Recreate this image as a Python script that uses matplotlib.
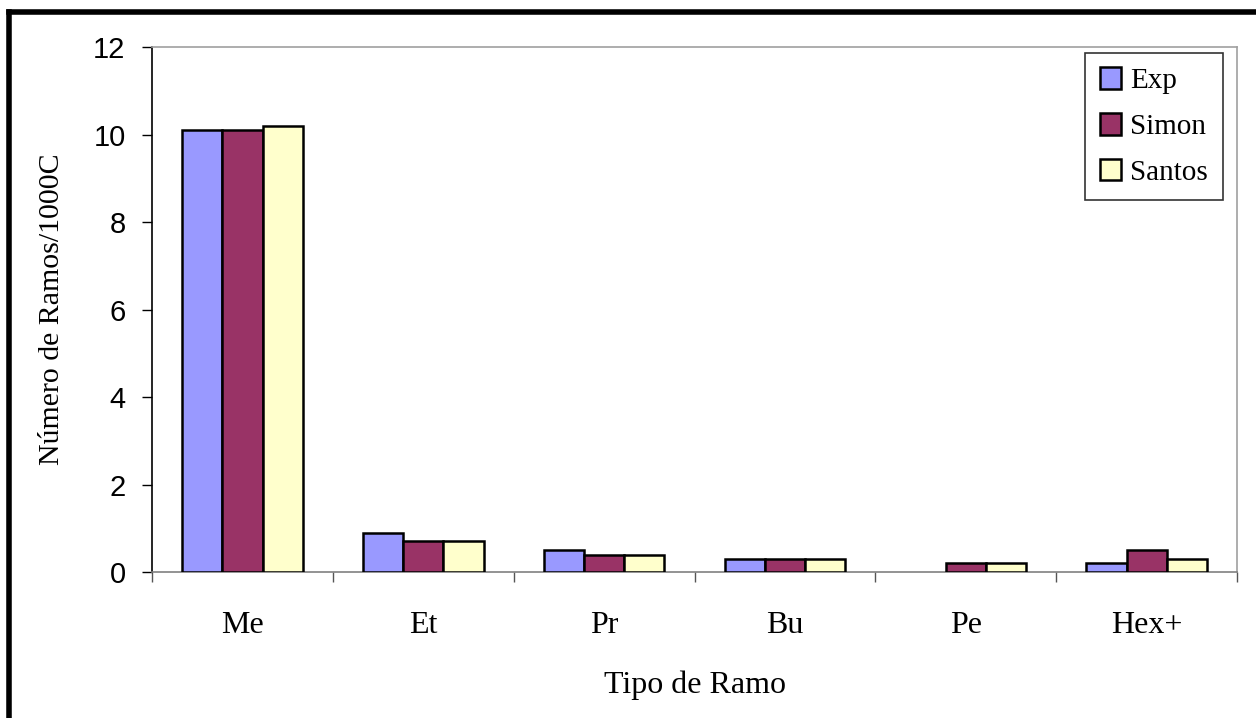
import matplotlib.pyplot as plt
from matplotlib.lines import Line2D
import numpy as np

categories = ['Me', 'Et', 'Pr', 'Bu', 'Pe', 'Hex+']
series_names = ['Exp', 'Simon', 'Santos']
exp_values = [10.1, 0.9, 0.5, 0.3, 0.0, 0.2]
simon_values = [10.1, 0.7, 0.4, 0.3, 0.2, 0.5]
santos_values = [10.2, 0.7, 0.4, 0.3, 0.2, 0.3]
colors = ['#9999FF', '#993366', '#FFFFCC']

serif = 'Liberation Serif'
sans = 'Liberation Sans'

fig = plt.figure(figsize=(12.56, 7.18), dpi=100)
ax = fig.add_axes([0.121, 0.2033, 0.864, 0.7312])

x = np.arange(len(categories))
w = 1 / 4.5
for i, (vals, name) in enumerate(zip([exp_values, simon_values, santos_values], series_names)):
    bars = ax.bar(x + (i - 1) * w, vals, width=w, color=colors[i], edgecolor='black',
                  linewidth=1.8, label=name, zorder=3)
    for b, v in zip(bars, vals):
        if v == 0:
            b.set_visible(False)  # empty bar, nothing drawn

ax.set_xlim(-0.5, len(categories) - 0.5)
ax.set_ylim(0, 12)
ax.set_yticks(range(0, 13, 2))
ax.set_yticklabels([str(v) for v in range(0, 13, 2)], fontfamily=sans, fontsize=21)
ax.tick_params(axis='y', direction='out', length=7, width=1, color='black', pad=12)

ax.set_xticks(x)
ax.set_xticklabels(categories, fontfamily=serif, fontsize=23)
ax.set_xticks(np.arange(-0.5, len(categories), 1), minor=True)
ax.tick_params(axis='x', which='major', length=0, pad=28)
ax.tick_params(axis='x', which='minor', direction='out', length=7, width=1, color='#555555')

ax.spines['left'].set_color('black')
ax.spines['bottom'].set_color('#808080')
ax.spines['top'].set_color('#a0a0a0')
ax.spines['right'].set_color('#a0a0a0')
for s in ax.spines.values():
    s.set_linewidth(1.2)

ax.set_ylabel('Número de Ramos/1000C', fontfamily=serif, fontsize=21.5, labelpad=20)
ax.set_xlabel('Tipo de Ramo', fontfamily=serif, fontsize=23, labelpad=22)

leg = ax.legend(loc='upper right', bbox_to_anchor=(0.9865, 0.989), prop={'family': serif, 'size': 21},
                frameon=True, fancybox=False, edgecolor='black', handlelength=0.75, handleheight=0.75,
                handletextpad=0.3, labelspacing=0.65, borderpad=0.5, borderaxespad=0.0)
leg.get_frame().set_linewidth(1.2)

# thick chart-area border at top and left
fig.add_artist(Line2D([0.0075, 1.0], [0.983, 0.983], color='black', linewidth=4, transform=fig.transFigure))
fig.add_artist(Line2D([0.0075, 0.0075], [0.0, 0.983], color='black', linewidth=4, transform=fig.transFigure))

fig.savefig('out.png', dpi=100)
